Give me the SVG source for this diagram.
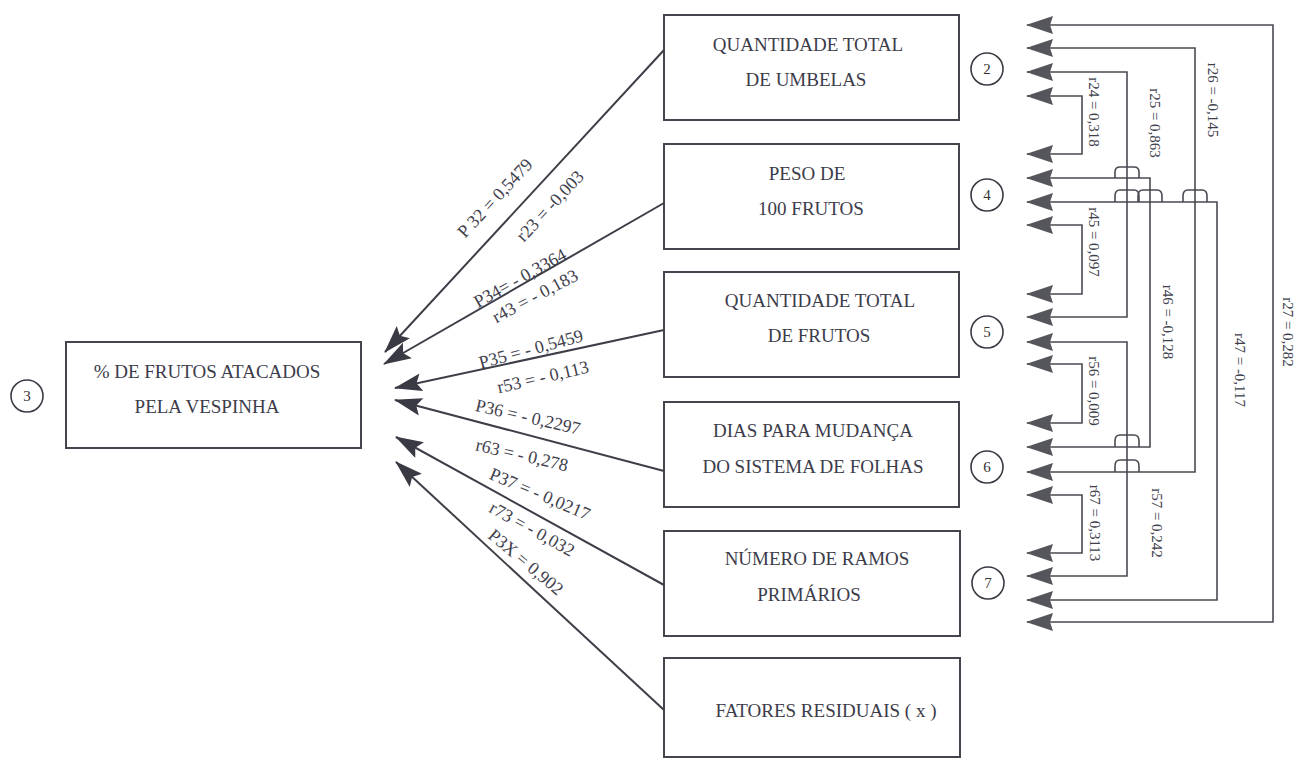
<svg xmlns="http://www.w3.org/2000/svg" width="1297" height="760" viewBox="0 0 1297 760">
<style>
.box{fill:none;stroke:#45454f;stroke-width:2}
.circ{fill:none;stroke:#3a3a44;stroke-width:1.6}
.nt{font-family:"Liberation Serif",serif;font-size:19px;fill:#3c3c4a;text-anchor:middle}
.num{font-family:"Liberation Serif",serif;font-size:15px;fill:#333;text-anchor:middle}
.lbl{font-family:"Liberation Serif",serif;font-size:18px;fill:#40404c;text-anchor:middle}
.rl{font-family:"Liberation Serif",serif;font-size:15px;fill:#40404c;text-anchor:middle}
.ln{fill:none;stroke:#3e3e48;stroke-width:2}
.rc{fill:none;stroke:#4a4a52;stroke-width:1.6}
.br{fill:none;stroke:#4a4a52;stroke-width:1.6}
</style>
<defs>
<marker id="ah" viewBox="0 0 28 18" refX="27" refY="9" markerWidth="28" markerHeight="18" markerUnits="userSpaceOnUse" orient="auto">
<path d="M0,0 L28,9 L0,18 L5,9 Z" fill="#3a3a44"/>
</marker>
<marker id="rh" viewBox="0 0 27 18" refX="26" refY="9" markerWidth="27" markerHeight="18" markerUnits="userSpaceOnUse" orient="auto-start-reverse">
<path d="M0,0 L27,9 L0,18 L3,9 Z" fill="#55555c"/>
</marker>
</defs>
<rect width="1297" height="760" fill="#ffffff"/>

<g id="node3">
<circle class="circ" cx="27" cy="396" r="16"/>
<text class="num" x="27" y="401">3</text>
<rect class="box" x="66" y="342" width="295" height="106"/>
<text class="nt" x="207" y="378">% DE FRUTOS ATACADOS</text>
<text class="nt" x="207" y="413">PELA VESPINHA</text>
</g>
<g id="node2">
<rect class="box" x="664" y="15" width="295" height="105"/>
<text class="nt" x="808" y="51">QUANTIDADE TOTAL</text>
<text class="nt" x="806" y="86">DE UMBELAS</text>
<circle class="circ" cx="987" cy="69" r="16"/>
<text class="num" x="987" y="74">2</text>
</g>
<g id="node4">
<rect class="box" x="664" y="144" width="295" height="105"/>
<text class="nt" x="807" y="180">PESO DE</text>
<text class="nt" x="811" y="215">100 FRUTOS</text>
<circle class="circ" cx="987" cy="195" r="16"/>
<text class="num" x="987" y="200">4</text>
</g>
<g id="node5">
<rect class="box" x="664" y="272" width="295" height="105"/>
<text class="nt" x="820" y="307">QUANTIDADE TOTAL</text>
<text class="nt" x="819" y="342">DE FRUTOS</text>
<circle class="circ" cx="987" cy="332" r="16"/>
<text class="num" x="987" y="337">5</text>
</g>
<g id="node6">
<rect class="box" x="664" y="402" width="295" height="105"/>
<text class="nt" x="813" y="437">DIAS PARA MUDANÇA</text>
<text class="nt" x="813" y="473">DO SISTEMA DE FOLHAS</text>
<circle class="circ" cx="987" cy="467" r="16"/>
<text class="num" x="987" y="472">6</text>
</g>
<g id="node7">
<rect class="box" x="664" y="531" width="296" height="105"/>
<text class="nt" x="817" y="565">NÚMERO DE RAMOS</text>
<text class="nt" x="809" y="601">PRIMÁRIOS</text>
<circle class="circ" cx="988" cy="583" r="16"/>
<text class="num" x="988" y="588">7</text>
</g>
<g id="nodeX">
<rect class="box" x="664" y="658" width="296" height="99"/>
<text class="nt" x="826" y="717">FATORES RESIDUAIS ( x )</text>
</g>

<g id="connectors">
<line class="ln" x1="664" y1="50" x2="385" y2="352" marker-end="url(#ah)"/>
<line class="ln" x1="664" y1="203" x2="384" y2="364" marker-end="url(#ah)"/>
<line class="ln" x1="664" y1="330" x2="395" y2="388" marker-end="url(#ah)"/>
<line class="ln" x1="664" y1="471" x2="395" y2="400" marker-end="url(#ah)"/>
<line class="ln" x1="664" y1="585" x2="396" y2="437" marker-end="url(#ah)"/>
<line class="ln" x1="664" y1="710" x2="396" y2="462" marker-end="url(#ah)"/>

<path class="rc" d="M1027,96 H1082 V154 H1027" marker-start="url(#rh)" marker-end="url(#rh)"/>
<path class="rc" d="M1027,72 H1127 V317 H1027" marker-start="url(#rh)" marker-end="url(#rh)"/>
<path class="rc" d="M1027,48 H1195 V472 H1027" marker-start="url(#rh)" marker-end="url(#rh)"/>
<path class="rc" d="M1027,25 H1273 V622 H1027" marker-start="url(#rh)" marker-end="url(#rh)"/>
<path class="rc" d="M1027,225 H1082 V294 H1027" marker-start="url(#rh)" marker-end="url(#rh)"/>
<path class="rc" d="M1027,178 H1150 V447 H1027" marker-start="url(#rh)" marker-end="url(#rh)"/>
<path class="rc" d="M1027,202 H1217 V600 H1027" marker-start="url(#rh)" marker-end="url(#rh)"/>
<path class="rc" d="M1027,364 H1082 V423 H1027" marker-start="url(#rh)" marker-end="url(#rh)"/>
<path class="rc" d="M1027,342 H1127 V576 H1027" marker-start="url(#rh)" marker-end="url(#rh)"/>
<path class="rc" d="M1027,495 H1082 V553 H1027" marker-start="url(#rh)" marker-end="url(#rh)"/>

<path class="br" d="M1115,178 V172 Q1115,167 1120,167 H1134 Q1139,167 1139,172 V178"/>
<path class="br" d="M1115,202 V196 Q1115,190 1120,190 H1134 Q1139,190 1139,196 V202"/>
<path class="br" d="M1138,202 V196 Q1138,190 1143,190 H1157 Q1162,190 1162,196 V202"/>
<path class="br" d="M1183,202 V196 Q1183,190 1188,190 H1202 Q1207,190 1207,196 V202"/>
<path class="br" d="M1115,447 V441 Q1115,435 1120,435 H1134 Q1139,435 1139,441 V447"/>
<path class="br" d="M1115,472 V466 Q1115,460 1120,460 H1134 Q1139,460 1139,466 V472"/>
</g>

<g id="labels">
<text class="lbl" transform="translate(495,198) rotate(-47)" x="0" y="6">P 32 = 0,5479</text>
<text class="lbl" transform="translate(550,206) rotate(-47)" x="0" y="6">r23 = -0,003</text>
<text class="lbl" transform="translate(520,278) rotate(-29)" x="0" y="6">P34= - 0,3364</text>
<text class="lbl" transform="translate(535,296) rotate(-28)" x="0" y="6">r43 = - 0,183</text>
<text class="lbl" transform="translate(531,349) rotate(-15)" x="0" y="6">P35 = - 0,5459</text>
<text class="lbl" transform="translate(543,377) rotate(-13)" x="0" y="6">r53 = - 0,113</text>
<text class="lbl" transform="translate(528,417) rotate(13)" x="0" y="6">P36 = - 0,2297</text>
<text class="lbl" transform="translate(522,455) rotate(13)" x="0" y="6">r63 = - 0,278</text>
<text class="lbl" transform="translate(540,494) rotate(23)" x="0" y="6">P37 = - 0,0217</text>
<text class="lbl" transform="translate(532,529) rotate(29)" x="0" y="6">r73 = - 0,032</text>
<text class="lbl" transform="translate(526,562) rotate(40)" x="0" y="6">P3X = 0,902</text>

<text class="rl" transform="translate(1094,112) rotate(90)" x="0" y="5">r24 = 0,318</text>
<text class="rl" transform="translate(1155,123) rotate(90)" x="0" y="5">r25 = 0,863</text>
<text class="rl" transform="translate(1213,100) rotate(90)" x="0" y="5">r26 = -0,145</text>
<text class="rl" transform="translate(1288,332) rotate(90)" x="0" y="5">r27 = 0,282</text>
<text class="rl" transform="translate(1094,242) rotate(90)" x="0" y="5">r45 = 0,097</text>
<text class="rl" transform="translate(1168,322) rotate(90)" x="0" y="5">r46 = -0,128</text>
<text class="rl" transform="translate(1240,370) rotate(90)" x="0" y="5">r47 = -0,117</text>
<text class="rl" transform="translate(1094,391) rotate(90)" x="0" y="5">r56 = 0,009</text>
<text class="rl" transform="translate(1157,523) rotate(90)" x="0" y="5">r57 = 0,242</text>
<text class="rl" transform="translate(1095,523) rotate(90)" x="0" y="5">r67 = 0,3113</text>
</g>
</svg>
